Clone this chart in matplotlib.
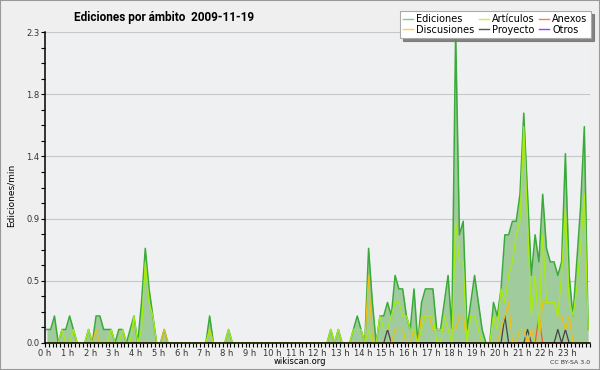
import numpy as np
import matplotlib.pyplot as plt
from matplotlib.lines import Line2D
from matplotlib.patches import Rectangle
from matplotlib.ticker import FixedLocator, MultipleLocator, FormatStrFormatter

# edits per minute, 10 minute bins, one row per hour
ediciones = [
    0.1, 0.1, 0.2, 0.0, 0.1, 0.1,   # 0 h
    0.2, 0.1, 0.0, 0.0, 0.0, 0.1,
    0.0, 0.2, 0.2, 0.1, 0.1, 0.1,
    0.0, 0.1, 0.1, 0.0, 0.1, 0.2,
    0.0, 0.3, 0.7, 0.4, 0.2, 0.0,
    0.0, 0.1, 0.0, 0.0, 0.0, 0.0,   # 5 h
    0.0, 0.0, 0.0, 0.0, 0.0, 0.0,
    0.0, 0.2, 0.0, 0.0, 0.0, 0.0,
    0.1, 0.0, 0.0, 0.0, 0.0, 0.0,
    0.0, 0.0, 0.0, 0.0, 0.0, 0.0,
    0.0, 0.0, 0.0, 0.0, 0.0, 0.0,   # 10 h
    0.0, 0.0, 0.0, 0.0, 0.0, 0.0,
    0.0, 0.0, 0.0, 0.1, 0.0, 0.1,
    0.0, 0.0, 0.0, 0.1, 0.2, 0.1,
    0.0, 0.7, 0.3, 0.0, 0.2, 0.2,
    0.3, 0.2, 0.5, 0.4, 0.4, 0.2,   # 15 h
    0.1, 0.4, 0.0, 0.3, 0.4, 0.4,
    0.4, 0.1, 0.1, 0.3, 0.5, 0.1,
    2.3, 0.8, 0.9, 0.1, 0.3, 0.5,
    0.3, 0.1, 0.0, 0.0, 0.3, 0.2,
    0.4, 0.8, 0.8, 0.9, 0.9, 1.1,   # 20 h
    1.7, 1.1, 0.5, 0.8, 0.6, 1.1,
    0.7, 0.6, 0.6, 0.5, 0.6, 1.4,
    0.5, 0.2, 0.6, 1.0, 1.6, 0.1,
]
articulos = [
    0.0, 0.0, 0.0, 0.0, 0.1, 0.0,
    0.0, 0.1, 0.0, 0.0, 0.0, 0.1,
    0.0, 0.0, 0.0, 0.0, 0.0, 0.1,
    0.0, 0.0, 0.1, 0.0, 0.0, 0.2,
    0.0, 0.1, 0.6, 0.3, 0.2, 0.0,
    0.0, 0.0, 0.0, 0.0, 0.0, 0.0,
    0.0, 0.0, 0.0, 0.0, 0.0, 0.0,
    0.0, 0.1, 0.0, 0.0, 0.0, 0.0,
    0.1, 0.0, 0.0, 0.0, 0.0, 0.0,
    0.0, 0.0, 0.0, 0.0, 0.0, 0.0,
    0.0, 0.0, 0.0, 0.0, 0.0, 0.0,
    0.0, 0.0, 0.0, 0.0, 0.0, 0.0,
    0.0, 0.0, 0.0, 0.1, 0.0, 0.1,
    0.0, 0.0, 0.0, 0.1, 0.1, 0.1,
    0.0, 0.1, 0.0, 0.0, 0.2, 0.1,
    0.1, 0.2, 0.3, 0.3, 0.2, 0.2,
    0.1, 0.1, 0.0, 0.1, 0.2, 0.2,
    0.2, 0.0, 0.0, 0.2, 0.1, 0.0,
    0.9, 0.6, 0.6, 0.0, 0.2, 0.2,
    0.1, 0.0, 0.0, 0.0, 0.2, 0.1,
    0.4, 0.3, 0.5, 0.6, 0.8, 0.9,
    1.6, 0.9, 0.2, 0.5, 0.1, 0.8,
    0.3, 0.3, 0.3, 0.2, 0.5, 1.0,
    0.3, 0.2, 0.4, 0.7, 1.1, 0.1,
]
discusiones = [0.0] * 144
for i, v in [(13, 0.1), (31, 0.1), (43, 0.1), (85, 0.5), (92, 0.1), (93, 0.1), (94, 0.1),
             (97, 0.1), (99, 0.2), (100, 0.2), (101, 0.2), (102, 0.1), (103, 0.1), (104, 0.1),
             (105, 0.1), (106, 0.1), (107, 0.1), (108, 0.1), (109, 0.2), (110, 0.2),
             (120, 0.1), (121, 0.2), (122, 0.3), (125, 0.1), (126, 0.1), (128, 0.1),
             (131, 0.3), (132, 0.3), (133, 0.3), (134, 0.3), (135, 0.2), (136, 0.2),
             (137, 0.1), (138, 0.2)]:
    discusiones[i] = v
proyecto = [0.0] * 144
for i, v in [(90, 0.1), (121, 0.2), (127, 0.1), (135, 0.1), (137, 0.1)]:
    proyecto[i] = v
anexos = [0.0] * 144
anexos[130] = 0.2
otros = [0.0] * 144

hour_labels = ["%d h" % h for h in range(24)]
leg_labels = ["Ediciones", "Discusiones", "Artículos", "Proyecto", "Anexos", "Otros"]
leg_colors = ["#7fd07f", "#ffd23c", "#c8f03c", "#555555", "#ff7f3f", "#9b3fff"]

t = (np.arange(144) + 0.5) / 6.0
ymax = max(ediciones)

fig = plt.figure(figsize=(6, 3.7), dpi=100, facecolor="#efefef")
ax = fig.add_axes([45/600, 1-343/370, 545/600, 311/370])
ax.set_facecolor("#eff0f1")

ax.fill_between(t, 0, ediciones, color="#a0cb9c", lw=0, zorder=2)
ax.plot(t, ediciones, color="#3aaa3a", lw=1.1, zorder=3)
ax.plot(t, otros, color="#9b3fff", lw=0.9, zorder=4)
ax.plot(t, anexos, color="#ff5a1e", lw=0.9, zorder=4)
ax.plot(t, proyecto, color="#444444", lw=0.9, zorder=4)
ax.plot(t, discusiones, color="#f0c010", lw=0.9, zorder=5)
ax.plot(t, articulos, color="#a6ec10", lw=0.9, zorder=6)

ax.set_xlim(0, 24)
ax.set_ylim(0, ymax)
ax.yaxis.set_major_locator(FixedLocator(np.linspace(0, ymax, 6)))
ax.yaxis.set_minor_locator(FixedLocator(np.linspace(0, ymax, 21)))
ax.yaxis.set_major_formatter(FormatStrFormatter("%.1f"))
ax.set_xticks(range(24))
ax.set_xticklabels(hour_labels)
ax.xaxis.set_minor_locator(MultipleLocator(1/6))
ax.grid(axis="y", color="#c8c8c8", lw=0.8)
ax.set_axisbelow(True)
for s in ["top", "right"]:
    ax.spines[s].set_visible(False)
for s in ["left", "bottom"]:
    ax.spines[s].set_linewidth(1.1)
    ax.spines[s].set_zorder(10)
ax.tick_params(which="both", direction="out", length=3, width=0.8,
               labelsize=6, pad=1, colors="black", labelcolor="#333333")

handles = [Line2D([], [], color=c, lw=1) for c in leg_colors]
leg = fig.legend(handles, leg_labels, ncol=3, loc="upper right",
                 bbox_to_anchor=(591/600, 1-11/370), fontsize=7, frameon=True,
                 fancybox=False, shadow={"color": "#777777", "alpha": 0.9},
                 handlelength=1.0, handletextpad=0.35, columnspacing=0.45,
                 labelspacing=0.05, borderpad=0.35, borderaxespad=0)
leg.get_frame().set_edgecolor("#aaaaaa")
leg.get_frame().set_linewidth(0.8)
leg.get_frame().set_alpha(1)

fig.text(164/600, 1-17/370, "Ediciones por ámbito  2009-11-19", ha="center", va="center",
         fontsize=8.5, fontweight="bold", family=["Roboto", "DejaVu Sans"])
fig.text(11/600, 1-195/370, "Ediciones/min", rotation=90, ha="center", va="center", fontsize=6.5)
fig.text(300/600, 1-361/370, "wikiscan.org", ha="center", va="center", fontsize=6)
fig.text(590/600, 1-362/370, "CC BY-SA 3.0", ha="right", va="center", fontsize=4.5, color="#333333")

fig.patches.append(Rectangle((0, 0), 1, 1, transform=fig.transFigure, fill=False,
                             edgecolor="#999999", lw=1.5))

fig.savefig("out.png", dpi=100, facecolor=fig.get_facecolor())
